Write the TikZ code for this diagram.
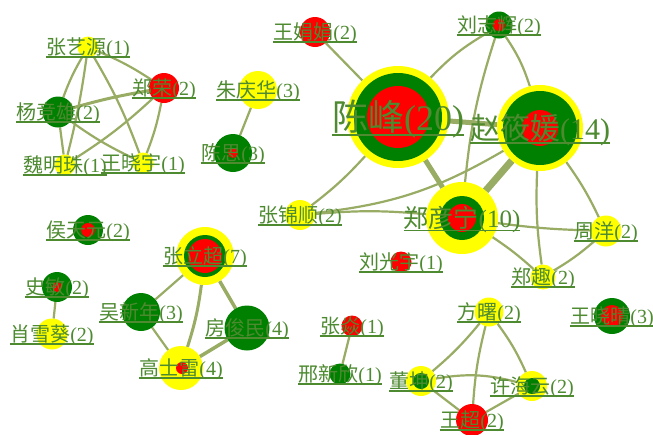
\documentclass[tikz,border=0pt]{standalone}
\usepackage{fontspec}
\setmainfont{Liberation Serif}
\newfontfamily\cjk{Noto Sans CJK SC}
\usetikzlibrary{calc}
\pgfdeclarelayer{bg}
\pgfsetlayers{bg,main}
\definecolor{txtg}{RGB}{77,138,48}
\definecolor{edg}{RGB}{152,172,100}
\definecolor{ng}{RGB}{0,128,0}
\definecolor{ny}{RGB}{255,255,0}
\definecolor{nr}{RGB}{255,0,0}
\tikzset{
  dot/.style={circle, inner sep=0pt, outer sep=0pt, draw=none, fill=#1},
  lab/.style={inner sep=0pt, outer sep=0pt, text=txtg},
  ul/.style={draw=txtg},
  link/.style={draw=edg, line width=#1},
  link/.default=2.2pt,
}
\newcommand\plabel[4]{%
  \node[lab, font=\fontsize{#2}{#2}\selectfont, anchor=base] (#1l)
     at ([yshift={-0.37*#2pt}]#1.center) {{\cjk #3}(#4)};
  \draw[ul, line width={0.065*#2pt}] ([yshift={-0.13*#2pt}]#1l.base west) -- ([yshift={-0.13*#2pt}]#1l.base east);
}
\begin{document}
\begin{tikzpicture}[x=1pt,y=-1pt]
\useasboundingbox (0,0) rectangle (653,434);

% ---- circles ----
\node[dot=ny,minimum size=102pt] (cf) at (398,117) {};
\node[dot=ng,minimum size=88pt] (cfg) at (cf) {};
\node[dot=nr,minimum size=62pt] (cfr) at (cf) {};

\node[dot=ny,minimum size=86pt] (zx) at (540,128) {};
\node[dot=ng,minimum size=74pt] (zxg) at (zx) {};
\node[dot=nr,minimum size=36pt] (zxr) at (zx) {};

\node[dot=ny,minimum size=72pt] (zyn) at (462,218) {};
\node[dot=ng,minimum size=44pt] (zyng) at (zyn) {};
\node[dot=nr,minimum size=28pt] (zynr) at (zyn) {};

\node[dot=nr,minimum size=30pt] (wj) at (315,32) {};
\node[dot=ny,minimum size=38pt] (zqh) at (258,90) {};
\node[dot=ng,minimum size=38pt] (cs) at (233,153) {};
\node[dot=nr,minimum size=10pt] (csr) at (cs) {};
\node[dot=ng,minimum size=27pt] (lz) at (499,25) {};
\node[dot=nr,minimum size=12pt] (lzr) at (lz) {};

\node[dot=ny,minimum size=21pt] (zyy) at (88,47) {};
\node[dot=nr,minimum size=30pt] (zr) at (164,88) {};
\node[dot=ng,minimum size=31pt] (yj) at (58,112) {};
\node[dot=ny,minimum size=21pt] (wm) at (65,165) {};
\node[dot=ny,minimum size=21pt] (wx) at (143,163) {};

\node[dot=ng,minimum size=30pt] (ht) at (88,230) {};
\node[dot=nr,minimum size=14pt] (htr) at (ht) {};
\node[dot=ng,minimum size=30pt] (sm) at (57,287) {};
\node[dot=nr,minimum size=10pt] (smr) at (sm) {};
\node[dot=ny,minimum size=31pt] (xx) at (52,334) {};

\node[dot=ny,minimum size=58pt] (zlc) at (205,256) {};
\node[dot=ng,minimum size=42pt] (zlcg) at (zlc) {};
\node[dot=nr,minimum size=34pt] (zlcr) at (zlc) {};
\node[dot=ng,minimum size=38pt] (wxn) at (141,312) {};
\node[dot=ng,minimum size=45pt] (fj) at (247,328) {};
\node[dot=ny,minimum size=44pt] (gs) at (181,368) {};
\node[dot=nr,minimum size=12pt] (gsr) at (182,368) {};

\node[dot=ny,minimum size=30pt] (zjs) at (300,215) {};
\node[dot=nr,minimum size=21pt] (lg) at (401,262) {};
\node[dot=ny,minimum size=31pt] (zy) at (606,231) {};
\node[dot=ny,minimum size=25pt] (zq) at (543,277) {};
\node[dot=ng,minimum size=36pt] (wxq) at (612,316) {};
\node[dot=nr,minimum size=22pt] (wxqr) at (wxq) {};

\node[dot=ny,minimum size=29pt] (fs) at (489,312) {};
\node[dot=nr,minimum size=21pt] (zyan) at (352,326) {};
\node[dot=ng,minimum size=21pt] (xxx) at (340,374) {};
\node[dot=ny,minimum size=30pt] (dk) at (421,381) {};
\node[dot=ng,minimum size=16pt] (dkg) at (dk) {};
\node[dot=ny,minimum size=30pt] (xh) at (532,386) {};
\node[dot=ng,minimum size=16pt] (xhg) at (xh) {};
\node[dot=nr,minimum size=32pt] (wc) at (472,420) {};

% ---- connectors ----
\begin{pgfonlayer}{bg}
\fill[white] (0,0) rectangle (653,434);
\draw[link] (wj) -- (cf);
\draw[link] (cf) to[bend left=8] (lz);
\draw[link] (lz) to[bend left=8] (zx);
\draw[link] (lz) to[bend right=6] (zyn);
\draw[link=5pt] (cf) -- (zx);
\draw[link=5pt] (cf) -- (zyn);
\draw[link=7pt] (zx) -- (zyn);
\draw[link] (cf) to[bend left=5] (zjs);
\draw[link] (zjs) to[bend right=12] (zx);
\draw[link] (zjs) to[bend left=5] (zyn);
\draw[link] (zx) to[bend left=5] (zy);
\draw[link] (zx) to[bend right=5] (zq);
\draw[link] (zyn) to[bend right=3] (zy);
\draw[link] (zyn) to[bend left=4] (zq);
\draw[link] (zq) to[bend right=5] (zy);
\draw[link] (zqh) -- (cs);

\draw[link] (zyy) to[bend left=5] (zr);
\draw[link] (zyy) to[bend right=5] (yj);
\draw[link] (zyy) to[bend left=3] (wm);
\draw[link] (zyy) to[bend left=5] (wx);
\draw[link=3pt] (zr) to[bend right=3] (yj);
\draw[link] (zr) to[bend left=5] (wm);
\draw[link] (zr) to[bend left=5] (wx);
\draw[link] (yj) -- (wm);
\draw[link] (yj) to[bend right=5] (wx);

\draw[link] (zlc) -- (wxn);
\draw[link=3pt] (zlc) to[bend left=5] (gs);
\draw[link=3.5pt] (zlc) -- (fj);
\draw[link] (wxn) -- (gs);
\draw[link=3.5pt] (gs) -- (fj);

\draw[link] (sm) -- (xx);
\draw[link] (zyan) -- (xxx);

\draw[link] (fs) to[bend left=5] (dk);
\draw[link] (fs) to[bend right=5] (wc);
\draw[link] (fs) to[bend left=6] (xh);
\draw[link] (dk) to[bend left=12] (xh);
\draw[link] (dk) -- (wc);
\draw[link] (wc) -- (xh);
\end{pgfonlayer}

% ---- labels ----
\plabel{cf}{36}{陈峰}{20}
\plabel{zx}{30}{赵筱媛}{14}
\plabel{zyn}{25}{郑彦宁}{10}
\plabel{wj}{20}{王娟娟}{2}
\plabel{zqh}{20}{朱庆华}{3}
\plabel{cs}{20}{陈思}{3}
\plabel{lz}{20}{刘志辉}{2}
\plabel{zyy}{20}{张艺源}{1}
\plabel{zr}{20}{郑荣}{2}
\plabel{yj}{20}{杨竞雄}{2}
\plabel{wm}{20}{魏明珠}{1}
\plabel{wx}{20}{王晓宇}{1}
\plabel{ht}{20}{侯天元}{2}
\plabel{sm}{20}{史敏}{2}
\plabel{xx}{20}{肖雪葵}{2}
\plabel{zlc}{20}{张立超}{7}
\plabel{wxn}{20}{吴新年}{3}
\plabel{fj}{20}{房俊民}{4}
\plabel{gs}{20}{高士雷}{4}
\plabel{zjs}{20}{张锦顺}{2}
\plabel{lg}{20}{刘光宇}{1}
\plabel{zy}{20}{周洋}{2}
\plabel{zq}{20}{郑趣}{2}
\plabel{wxq}{20}{王晓晴}{3}
\plabel{fs}{20}{方曙}{2}
\plabel{zyan}{20}{张焱}{1}
\plabel{xxx}{20}{邢新欣}{1}
\plabel{dk}{20}{董坤}{2}
\plabel{xh}{20}{许海云}{2}
\plabel{wc}{20}{王超}{2}
\end{tikzpicture}
\end{document}
